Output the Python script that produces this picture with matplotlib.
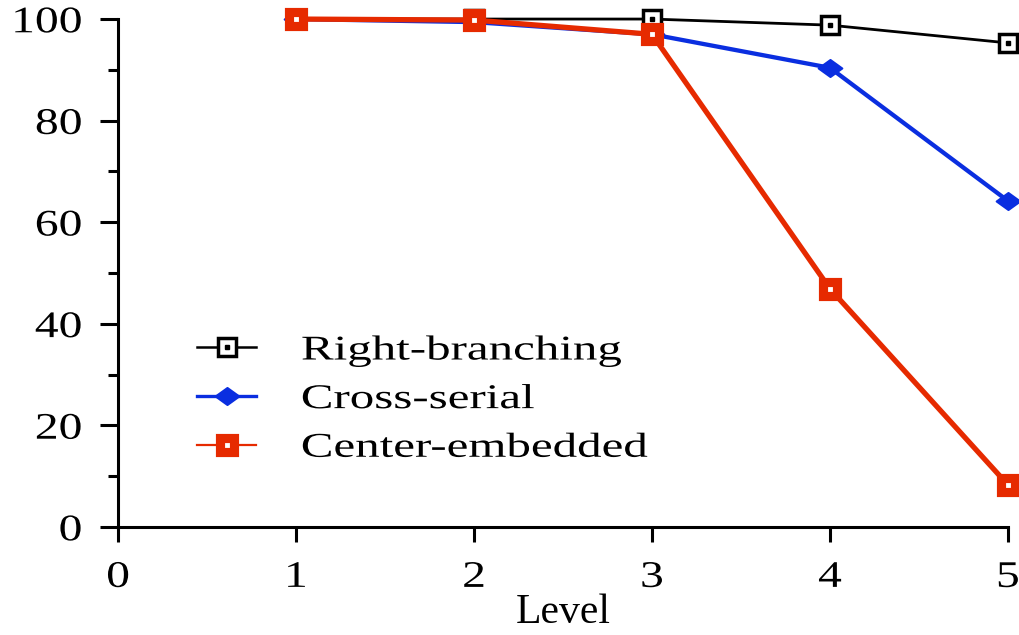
import matplotlib
matplotlib.use('Agg')
import matplotlib.pyplot as plt
from matplotlib.path import Path
from matplotlib.ticker import MultipleLocator
from matplotlib.legend_handler import HandlerTuple
from matplotlib.patheffects import AbstractPathEffect
from matplotlib.transforms import Affine2D

levels = [1, 2, 3, 4, 5]
right_branching = [100.0, 100.0, 100.0, 98.8, 95.3]
cross_serial = [100.0, 99.4, 97.0, 90.4, 64.2]
center_embedded = [100.0, 99.8, 97.0, 46.9, 8.3]
labels = ['Right-branching', 'Cross-serial', 'Center-embedded']


class StretchX(AbstractPathEffect):
    # widen the glyphs horizontally, keeping the aligned edge in place
    def __init__(self, sx, anchor):
        super().__init__()
        self.sx = sx
        self.anchor = anchor

    def draw_path(self, renderer, gc, tpath, affine, rgbFace=None):
        ext = tpath.get_extents()
        pivot = ext.x0 + self.anchor * ext.width
        st = Affine2D().translate(-pivot, 0).scale(self.sx, 1).translate(pivot, 0)
        renderer.draw_path(gc, tpath, st + affine, rgbFace)


plt.rcParams['font.family'] = ['Liberation Serif', 'DejaVu Serif']
plt.rcParams['font.size'] = 25

fig = plt.figure(figsize=(10.2, 6.35), dpi=100)
ax = fig.add_axes([0.1157, 0.170, 0.8725, 0.800])

red = '#e62a00'
blue = '#0a2ee0'

# flattened diamond for the cross-serial marker
diamond = Path([(-1, 0), (0, 0.72), (1, 0), (0, -0.72), (-1, 0)],
               [Path.MOVETO, Path.LINETO, Path.LINETO, Path.LINETO, Path.CLOSEPOLY])

l1, = ax.plot(levels, right_branching, color='black', lw=2.0, marker='s', ms=13,
              mfc='white', mec='black', mew=2.5, clip_on=False, zorder=3)
d1, = ax.plot(levels, right_branching, ls='none', marker='s', ms=2.4,
              color='black', clip_on=False, zorder=4)
l2, = ax.plot(levels, cross_serial, color=blue, lw=3.1, marker=diamond, ms=17,
              mfc=blue, mec=blue, mew=1.5, clip_on=False, zorder=3)
l3, = ax.plot(levels, center_embedded, color=red, lw=3.8, marker='s', ms=9.8,
              mfc='white', mec=red, mew=6.6, clip_on=False, zorder=5)

ax.set_xlim(0, 5)
ax.set_ylim(0, 100)
ax.xaxis.set_major_locator(MultipleLocator(1))
ax.yaxis.set_major_locator(MultipleLocator(20))
ax.yaxis.set_minor_locator(MultipleLocator(10))

for s in ['top', 'right']:
    ax.spines[s].set_visible(False)
for s in ['left', 'bottom']:
    ax.spines[s].set_linewidth(2.2)

ax.tick_params(axis='both', which='major', labelsize=27)
ax.tick_params(axis='y', which='major', direction='out', length=13, width=2.2, pad=13)
ax.tick_params(axis='y', which='minor', direction='out', length=7, width=2.2)
ax.tick_params(axis='x', which='major', direction='out', length=11, width=2.2, pad=13)

ax.set_xlabel('Level', fontsize=30, labelpad=-1)

leg = ax.legend([(l1, d1), l2, l3], labels,
                handler_map={tuple: HandlerTuple(ndivide=1)},
                loc='upper left', bbox_to_anchor=(0.089, 0.38), frameon=False,
                borderpad=0, borderaxespad=0, handlelength=1.7, handletextpad=1.3,
                labelspacing=0.45)

# legend lines are thinner than the plotted ones
for line, w in zip(leg.get_lines(), [1.8, 2.4, 1.6]):
    line.set_linewidth(w)

for t in ax.get_yticklabels():
    t.set_path_effects([StretchX(1.27, 1.0)])
for t in ax.get_xticklabels():
    t.set_path_effects([StretchX(1.27, 0.5)])
for t in leg.get_texts():
    t.set_path_effects([StretchX(1.41, 0.0)])

fig.savefig('out.png', dpi=100)
